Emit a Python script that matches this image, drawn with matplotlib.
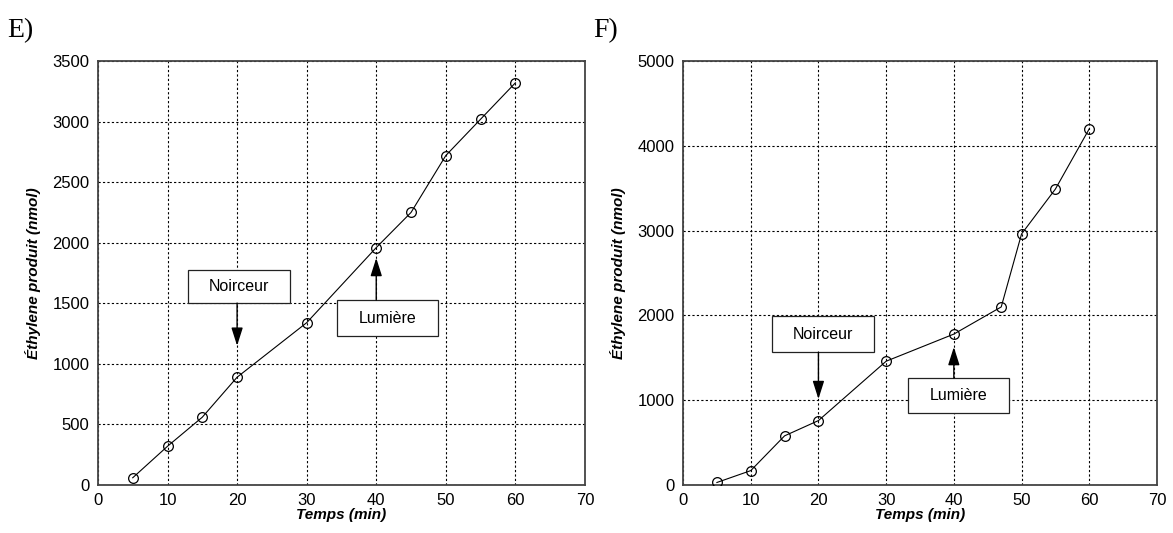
import matplotlib
matplotlib.use("Agg")
import matplotlib.pyplot as plt
from matplotlib.patches import Rectangle

plt.rcParams['font.family'] = ['Liberation Sans', 'DejaVu Sans']

# panel E
temps_e = [5, 10, 15, 20, 30, 40, 45, 50, 55, 60]
ethyl_e = [60, 320, 560, 890, 1340, 1960, 2250, 2720, 3020, 3320]
# panel F
temps_f = [5, 10, 15, 20, 30, 40, 47, 50, 55, 60]
ethyl_f = [30, 170, 580, 760, 1460, 1780, 2100, 2960, 3490, 4200]

xticks = [0, 10, 20, 30, 40, 50, 60, 70]
yticks_e = [0, 500, 1000, 1500, 2000, 2500, 3000, 3500]
yticks_f = [0, 1000, 2000, 3000, 4000, 5000]

# annotation boxes: (x0, x1, y0, y1), arrow tip y
noir_e = (12.9, 27.6, 1502, 1775)
noir_tip_e = 1150
lum_e = (34.4, 48.9, 1230, 1527)
lum_tip_e = 1874
noir_f = (13.2, 28.2, 1568, 1993)
noir_tip_f = 1014
lum_f = (33.2, 48.1, 849, 1262)
lum_tip_f = 1627

fig = plt.figure(figsize=(11.73, 5.33), dpi=100)
ax1 = fig.add_axes([0.0835, 0.09, 0.4152, 0.7955])
ax2 = fig.add_axes([0.5823, 0.09, 0.404, 0.7955])

def box(ax, b, label):
    x0, x1, y0, y1 = b
    ax.add_patch(Rectangle((x0, y0), x1 - x0, y1 - y0, fc='white', ec='#222222', lw=0.9, zorder=4))
    ax.text((x0 + x1) / 2, (y0 + y1) / 2, label, ha='center', va='center', fontsize=11.5, zorder=5)

def draw(ax, x, y, yticks, letter, nb, ntip, lb, ltip):
    ax.plot(x, y, 'k-', lw=0.8, marker='o', mfc='none', mec='k', ms=7, mew=0.9, zorder=3)
    ax.set_xlim(0, 70)
    ax.set_ylim(yticks[0], yticks[-1])
    ax.set_xticks(xticks)
    ax.set_yticks(yticks)
    ax.grid(True, color='k', ls=(0, (2, 2)), lw=0.8)
    ax.tick_params(length=0, labelsize=12, pad=6)
    for s in ax.spines.values():
        s.set_color('#444444')
        s.set_linewidth(1.3)
    ax.set_xlabel('Temps (min)', fontsize=11, fontweight='bold', style='italic', labelpad=0)
    ax.set_ylabel('Éthylene produit (nmol)', fontsize=11, fontweight='bold', style='italic', labelpad=8)
    fig.text(ax.get_position().x0 - 0.077, 0.93, letter, family='Liberation Serif', fontsize=20)
    box(ax, nb, 'Noirceur')
    box(ax, lb, 'Lumière')
    ap = dict(arrowstyle='-|>,head_length=1.1,head_width=0.35', color='k', lw=1.0, shrinkA=0, shrinkB=0)
    ax.annotate('', xy=(20, ntip), xytext=(20, nb[2]), arrowprops=ap, zorder=4)
    ax.annotate('', xy=(40, ltip), xytext=(40, lb[3]), arrowprops=ap, zorder=4)

draw(ax1, temps_e, ethyl_e, yticks_e, 'E)', noir_e, noir_tip_e, lum_e, lum_tip_e)
draw(ax2, temps_f, ethyl_f, yticks_f, 'F)', noir_f, noir_tip_f, lum_f, lum_tip_f)

fig.savefig('out.png', dpi=100)
